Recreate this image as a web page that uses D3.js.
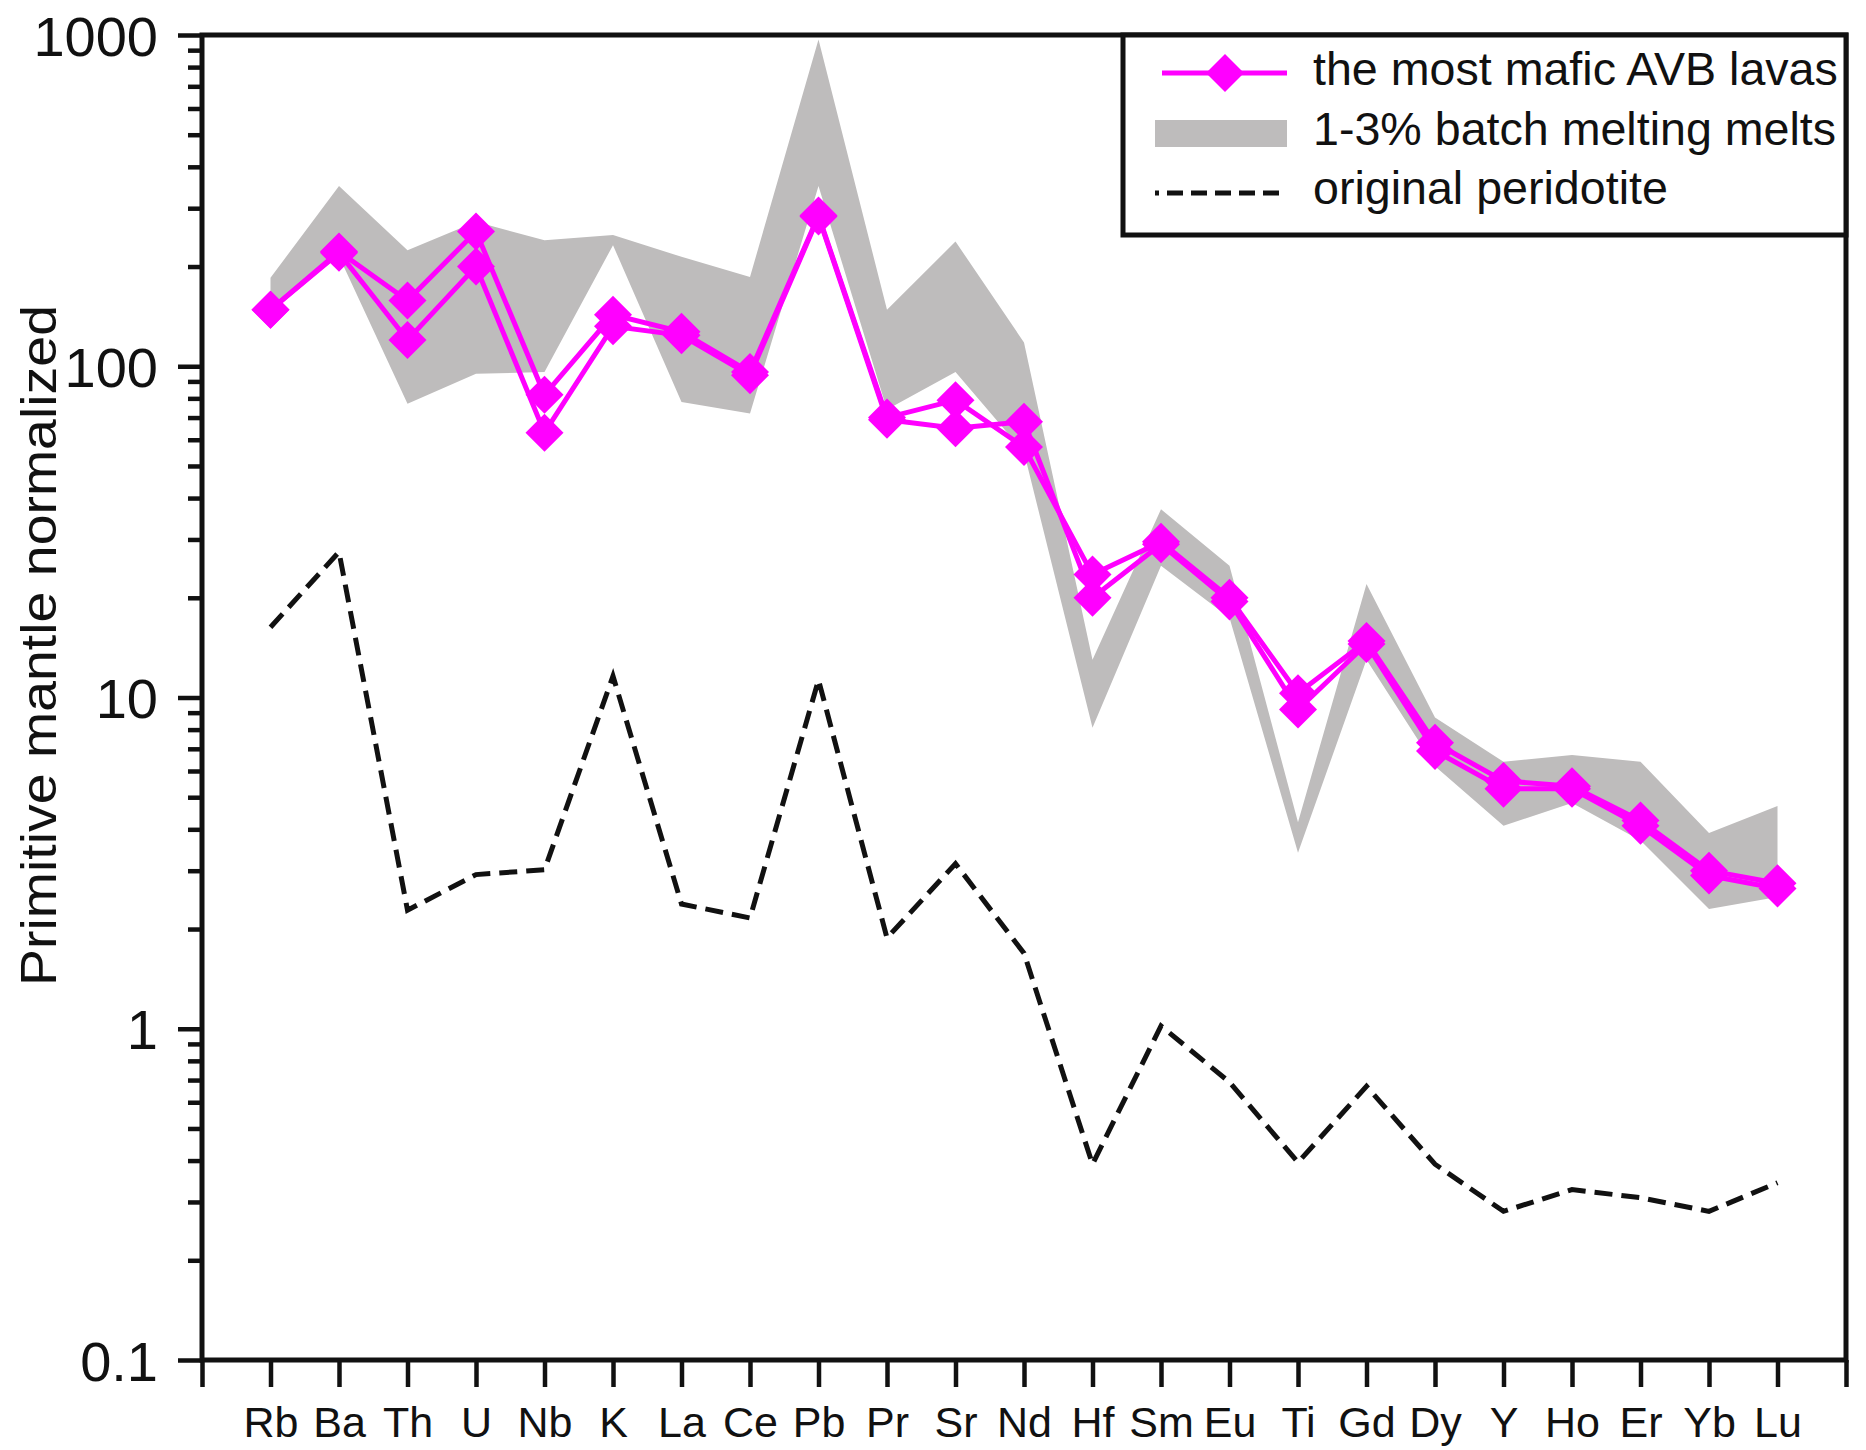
<!DOCTYPE html>
<html>
<head>
<meta charset="utf-8">
<script src="https://cdn.jsdelivr.net/npm/d3@7"></script>
<style>
  html, body { margin: 0; padding: 0; background: #fff; }
  svg { display: block; }
  text { font-family: "Liberation Sans", Arial, Helvetica, sans-serif; fill: #111; }
</style>
</head>
<body>
<svg id="chart" width="1866" height="1450"></svg>
<script>
// Trace elements, in spider-diagram order
const elements = ["Rb","Ba","Th","U","Nb","K","La","Ce","Pb","Pr","Sr","Nd","Hf","Sm","Eu","Ti","Gd","Dy","Y","Ho","Er","Yb","Lu"];

// The most mafic AVB lavas (two samples), primitive-mantle normalized
const lavaA = [148, 222, 158, 255, 82, 143, 127, 96, 285, 70, 79, 57, 23.5, 29.5, 20, 10.3, 14.8, 7.3, 5.6, 5.4, 4.25, 3.0, 2.75];
const lavaB = [148, 220, 120, 200, 63, 132, 124, 94, 283, 69, 65, 68, 20, 29, 19.5, 9.2, 14.5, 6.9, 5.3, 5.3, 4.1, 2.9, 2.65];

// 1-3% batch melting melts: envelope of the modelled melts
const meltUpper = [185, 350, 224, 273, 240, 249, 214, 186, 970, 148, 238, 118, 13, 37, 25, 4.2, 22, 8.7, 6.4, 6.7, 6.4, 3.9, 4.7];
const meltLower = [148, 215, 77, 95, 96, 232, 78, 72, 350, 74, 96, 55, 8.1, 25, 17.4, 3.4, 13, 6.2, 4.1, 4.8, 3.7, 2.3, 2.5];

// Original peridotite source
const peridotite = [16.3, 27.5, 2.28, 2.92, 3.02, 11.6, 2.38, 2.16, 11.3, 1.88, 3.15, 1.69, 0.39, 1.02, 0.69, 0.395, 0.67, 0.39, 0.281, 0.327, 0.309, 0.281, 0.343];

// Axis ticks
const yMajorTicks = [0.1, 1, 10, 100, 1000];
const yTickLabels = ["0.1", "1", "10", "100", "1000"];

const legendLabels = ["the most mafic AVB lavas", "1-3% batch melting melts", "original peridotite"];

const MAGENTA = "#ff00ff";
const GREY = "#bebcbc";
const INK = "#111";

const svg = d3.select("#chart");
const plot = { left: 202, right: 1846, top: 35, bottom: 1360 };

const x = d3.scaleLinear().domain([0, elements.length + 1]).range([plot.left, plot.right]);
const y = d3.scaleLog().domain([0.1, 1000]).range([plot.bottom, plot.top]);

const xi = i => x(i + 1);

// grey melt envelope
const band = d3.area()
  .x((d, i) => xi(i))
  .y0(d => y(d[0]))
  .y1(d => y(d[1]));
svg.append("path")
  .datum(meltLower.map((v, i) => [v, meltUpper[i]]))
  .attr("d", band)
  .attr("fill", GREY)
  .attr("stroke", "none");

// dashed peridotite pattern
const line = d3.line().x((d, i) => xi(i)).y(d => y(d));
svg.append("path")
  .datum(peridotite)
  .attr("d", line)
  .attr("fill", "none")
  .attr("stroke", INK)
  .attr("stroke-width", 5)
  .attr("stroke-dasharray", "18,9")
  .attr("stroke-linejoin", "miter");

// lava samples
const diamond = r => `M0,${-r}L${r},0L0,${r}L${-r},0Z`;
[lavaA, lavaB].forEach(series => {
  svg.append("path")
    .datum(series)
    .attr("d", line)
    .attr("fill", "none")
    .attr("stroke", MAGENTA)
    .attr("stroke-width", 5);
});
[lavaA, lavaB].forEach(series => {
  svg.append("g").selectAll("path")
    .data(series)
    .join("path")
    .attr("transform", (d, i) => `translate(${xi(i)},${y(d)})`)
    .attr("d", diamond(19))
    .attr("fill", MAGENTA);
});

// axes
const yAxis = d3.axisLeft(y)
  .tickValues(yMajorTicks)
  .tickFormat((d, i) => yTickLabels[i])
  .tickSize(24)
  .tickSizeOuter(0)
  .tickPadding(20);
const gy = svg.append("g").attr("transform", `translate(${plot.left},0)`).call(yAxis);
gy.select(".domain").remove();
gy.selectAll("line").attr("stroke", INK).attr("stroke-width", 4.5);
gy.selectAll("text").style("font-size", "56px").attr("dy", "0.36em");

const minorTicks = [];
for (let e = -1; e < 3; e++) for (let m = 2; m <= 9; m++) minorTicks.push(m * Math.pow(10, e));
const yMinor = d3.axisLeft(y).tickValues(minorTicks).tickFormat("").tickSize(14).tickSizeOuter(0);
const gym = svg.append("g").attr("transform", `translate(${plot.left},0)`).call(yMinor);
gym.select(".domain").remove();
gym.selectAll("line").attr("stroke", INK).attr("stroke-width", 4.5);

const xAxis = d3.axisBottom(x)
  .tickValues(d3.range(0, elements.length + 2))
  .tickFormat(d => (d >= 1 && d <= elements.length) ? elements[d - 1] : "")
  .tickSize(27)
  .tickSizeOuter(0)
  .tickPadding(19);
const gx = svg.append("g").attr("transform", `translate(0,${plot.bottom})`).call(xAxis);
gx.select(".domain").remove();
gx.selectAll("line").attr("stroke", INK).attr("stroke-width", 4.5);
gx.selectAll("text").style("font-size", "43px");

// plot frame
svg.append("rect")
  .attr("x", plot.left).attr("y", plot.top)
  .attr("width", plot.right - plot.left).attr("height", plot.bottom - plot.top)
  .attr("fill", "none").attr("stroke", INK).attr("stroke-width", 5);

// y axis title
svg.append("text")
  .attr("transform", `translate(56,${(303 + 988) / 2}) rotate(-90)`)
  .attr("text-anchor", "middle")
  .attr("textLength", 681)
  .attr("lengthAdjust", "spacingAndGlyphs")
  .style("font-size", "50px")
  .text("Primitive mantle normalized");

// legend
const lg = svg.append("g");
lg.append("rect")
  .attr("x", 1123).attr("y", plot.top)
  .attr("width", plot.right - 1123).attr("height", 200)
  .attr("fill", "#fff").attr("stroke", INK).attr("stroke-width", 5);

lg.append("line")
  .attr("x1", 1162).attr("x2", 1287).attr("y1", 73).attr("y2", 73)
  .attr("stroke", MAGENTA).attr("stroke-width", 5);
lg.append("path")
  .attr("transform", "translate(1225,73)")
  .attr("d", diamond(19))
  .attr("fill", MAGENTA);

lg.append("rect")
  .attr("x", 1155).attr("y", 120).attr("width", 132).attr("height", 27)
  .attr("fill", GREY);

lg.append("line")
  .attr("x1", 1155).attr("x2", 1287).attr("y1", 193).attr("y2", 193)
  .attr("stroke", INK).attr("stroke-width", 5)
  .attr("stroke-dasharray", "16,8").attr("stroke-dashoffset", 12);

const legendBaselines = [85, 145, 204];
lg.selectAll("text.lbl")
  .data(legendLabels)
  .join("text")
  .attr("class", "lbl")
  .attr("x", 1313)
  .attr("y", (d, i) => legendBaselines[i])
  .style("font-size", "46.6px")
  .text(d => d);
</script>
</body>
</html>
